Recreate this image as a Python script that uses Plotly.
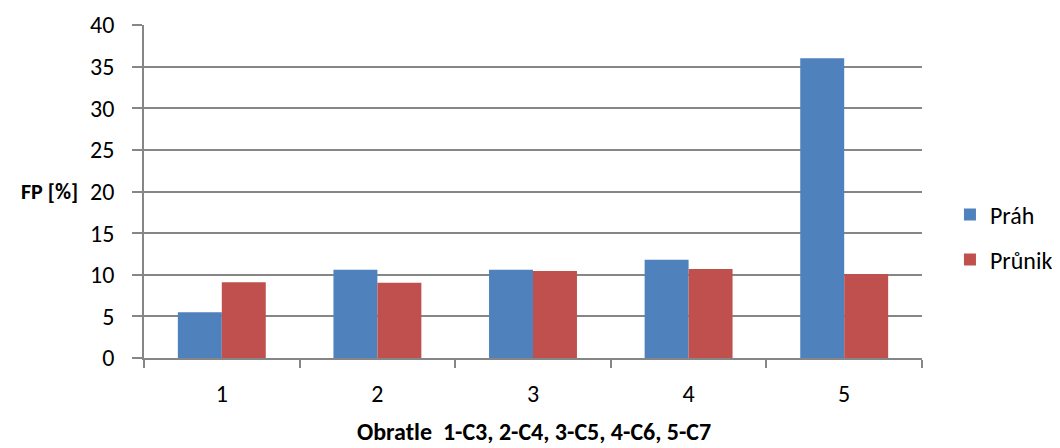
import plotly.graph_objects as go

categories = ["1", "2", "3", "4", "5"]
prah = [5.5, 10.6, 10.6, 11.8, 36.0]
prunik = [9.1, 9.05, 10.45, 10.7, 10.1]
series_names = ["Práh", "Průnik"]
colors = ["#4F81BD", "#C0504D"]

FONT = "Carlito, Lato, Open Sans, sans-serif"

fig = go.Figure()
fig.add_trace(go.Bar(x=categories, y=prah, name=series_names[0], marker_color=colors[0],
                     marker_line_width=0, legend="legend", showlegend=True))
fig.add_trace(go.Bar(x=categories, y=prunik, name=series_names[1], marker_color=colors[1],
                     marker_line_width=0, legend="legend2", showlegend=True))

fig.update_layout(
    width=1052, height=440,
    margin=dict(l=136, r=138, t=17, b=89.5, autoexpand=False),
    plot_bgcolor="white", paper_bgcolor="white",
    barmode="group", bargap=0.435, bargroupgap=0,
    showlegend=True,
    font=dict(family=FONT, size=24, color="#000"),
    legend=dict(xref="container", yref="container", x=0.8954, xanchor="left",
                y=0.5295, yanchor="middle",
                font=dict(size=24), bgcolor="rgba(0,0,0,0)"),
    legend2=dict(xref="container", yref="container", x=0.8954, xanchor="left",
                 y=0.4273, yanchor="middle",
                 font=dict(size=24), bgcolor="rgba(0,0,0,0)"),
    xaxis=dict(showline=True, linecolor="#868686", linewidth=1.5, automargin=False,
               ticks="outside", tickson="boundaries", ticklen=8, tickcolor="#868686",
               tickwidth=1.5, tickfont=dict(size=24), showgrid=False,
               ticklabelstandoff=13),
    yaxis=dict(range=[0, 40], dtick=5, showline=True, linecolor="#868686", linewidth=1.5,
               automargin=False,
               ticks="outside", ticklen=10, tickcolor="#868686", tickwidth=1.5,
               showgrid=True, gridcolor="#868686", gridwidth=1.5,
               tickfont=dict(size=24), zeroline=False, ticklabelstandoff=13),
    annotations=[
        dict(text="<b>FP [%]</b>", xref="paper", yref="paper", x=-0.0823, y=0.5,
             xanchor="right", yanchor="middle", showarrow=False, font=dict(size=22)),
        dict(text="<b>Obratle  1-C3, 2-C4, 3-C5, 4-C6, 5-C7</b>", xref="paper", yref="paper",
             x=0.501, y=-0.22, xanchor="center", yanchor="middle", showarrow=False,
             font=dict(size=24)),
    ],
)

fig.write_html("out.html")
